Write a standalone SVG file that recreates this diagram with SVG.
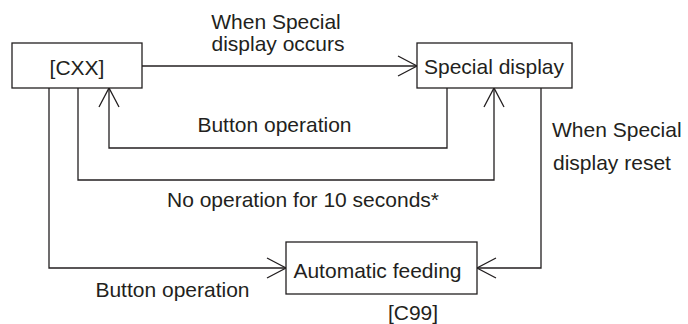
<svg xmlns="http://www.w3.org/2000/svg" width="688" height="324" viewBox="0 0 688 324">
<style>
.box{fill:#fff;stroke:#231f20;stroke-width:1.3}
.ln{fill:none;stroke:#231f20;stroke-width:1.3}
text{font-family:"Liberation Sans",Arial,sans-serif;font-size:21px;fill:#231f20}
.m{text-anchor:middle}
</style>
<defs>
<marker id="ah" markerUnits="userSpaceOnUse" viewBox="-21 -11 22 22" refX="0" refY="0" markerWidth="22" markerHeight="22" orient="auto" overflow="visible">
<path d="M-19,-10 L0,0 L-19,10" fill="none" stroke="#231f20" stroke-width="1.3"/>
</marker>
</defs>
<g id="connectors">
<path class="ln" d="M142,66 H417" marker-end="url(#ah)"/>
<path class="ln" d="M447,88 V148 H109 V88" marker-end="url(#ah)"/>
<path class="ln" d="M78,88 V180 H494 V88" marker-end="url(#ah)"/>
<path class="ln" d="M49,88 V268 H286" marker-end="url(#ah)"/>
<path class="ln" d="M541,88 V268 H477" marker-end="url(#ah)"/>
</g>
<g id="labels">
<text class="m" x="276" y="29">When Special</text>
<text class="m" x="278" y="51">display occurs</text>
<text class="m" x="274.5" y="132">Button operation</text>
<text x="552" y="137">When Special</text>
<text x="553" y="170">display reset</text>
<text class="m" x="303" y="207">No operation for 10 seconds*</text>
<text class="m" x="172.5" y="297">Button operation</text>
<text class="m" x="413" y="320">[C99]</text>
</g>
<g id="cxx">
<rect class="box" x="12" y="43" width="130" height="45"/>
<text class="m" x="77" y="75">[CXX]</text>
</g>
<g id="special">
<rect class="box" x="417" y="43" width="155" height="45"/>
<text class="m" x="494" y="74">Special display</text>
</g>
<g id="auto">
<rect class="box" x="286" y="242" width="191" height="52"/>
<text class="m" x="377.5" y="278">Automatic feeding</text>
</g>
</svg>
